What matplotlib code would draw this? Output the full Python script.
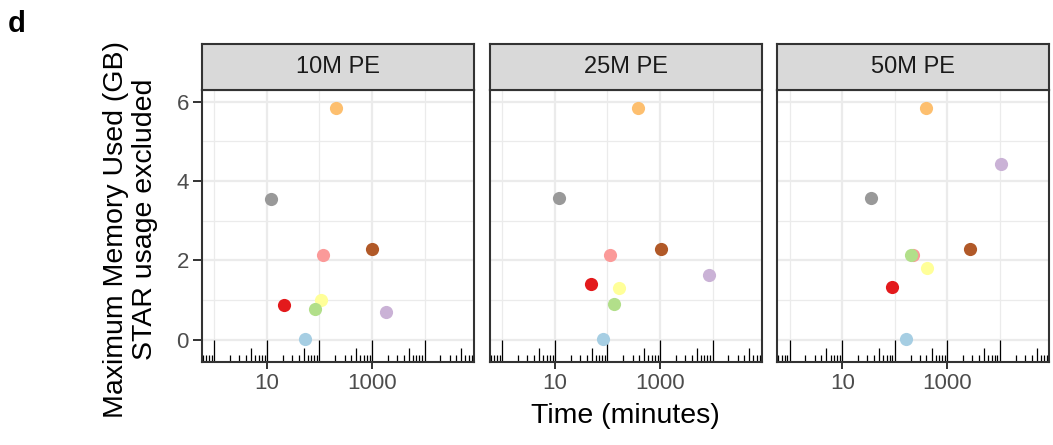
import matplotlib
matplotlib.use("Agg")
import matplotlib.pyplot as plt
import numpy as np

plt.rcParams['font.family'] = ['Liberation Sans', 'DejaVu Sans']

# Данные: панели, цвета серий, время (мин) и память (GB)
panels = ["10M PE", "25M PE", "50M PE"]
colors = ['#A6CEE3', '#E31A1C', '#FFFF99', '#FB9A99', '#B2DF8A',
          '#B15928', '#CAB2D6', '#FDBF6F', '#999999']

time_10m = [53, 21, 105, 118, 82, 986, 1850, 204, 11.8]
mem_10m = [0.025, 0.87, 1.01, 2.14, 0.79, 2.30, 0.70, 5.83, 3.55]

time_25m = [82, 48, 165, 113, 133, 1050, 8360, 373, 12.2]
mem_25m = [0.03, 1.42, 1.30, 2.14, 0.91, 2.30, 1.645, 5.83, 3.58]

time_50m = [163, 88.5, 414, 227, 203, 2650, 10700, 389, 35]
mem_50m = [0.03, 1.34, 1.82, 2.14, 2.14, 2.30, 4.42, 5.83, 3.56]

times = [time_10m, time_25m, time_50m]
mems = [mem_10m, mem_25m, mem_50m]

x_breaks = [10, 1000]
x_minor = [1, 100, 10000]
y_breaks = [0, 2, 4, 6]
y_minor = [1, 3, 5]

W, H = 1053, 445
fig = plt.figure(figsize=(W / 100, H / 100), dpi=100)

lefts = [202, 490, 777.3]
pw = 272
p_top, p_bot = 90, 361.7
s_top = 44

xlim = (10 ** -0.235, 10 ** 4.94)
ylim = (-0.547, 6.29)

for i, name in enumerate(panels):
    ax = fig.add_axes([lefts[i] / W, 1 - p_bot / H, pw / W, (p_bot - p_top) / H])
    ax.set_xscale('log')
    ax.set_xlim(*xlim)
    ax.set_ylim(*ylim)

    ax.set_xticks(x_breaks)
    ax.set_xticklabels([str(v) for v in x_breaks])
    ax.set_xticks(x_minor, minor=True)
    ax.set_yticks(y_breaks)
    ax.set_yticks(y_minor, minor=True)
    ax.xaxis.set_minor_formatter(matplotlib.ticker.NullFormatter())

    ax.grid(which='major', color='#EBEBEB', linewidth=1.6, zorder=0)
    ax.grid(which='minor', color='#EBEBEB', linewidth=0.9, zorder=0)
    ax.set_axisbelow(True)

    ax.tick_params(which='minor', length=0)
    ax.tick_params(axis='x', which='major', length=5, width=1.4, color='#333333',
                   labelsize=16, labelcolor='#4D4D4D', pad=3)
    if i == 0:
        ax.set_yticklabels([str(v) for v in y_breaks])
        ax.tick_params(axis='y', which='major', length=6.5, width=1.4, color='#333333',
                       labelsize=16, labelcolor='#4D4D4D', pad=3)
    else:
        ax.tick_params(axis='y', which='both', left=False, labelleft=False)

    for sp in ax.spines.values():
        sp.set_color('#333333')
        sp.set_linewidth(1.5)

    # логарифмические деления внутри панели (как annotation_logticks)
    trans = ax.get_xaxis_transform()
    for k in range(-1, 6):
        for m in range(1, 10):
            v = m * 10.0 ** k
            if v < xlim[0] or v > xlim[1]:
                continue
            if m == 1:
                ln = 0.08
            elif m == 5:
                ln = 0.052
            else:
                ln = 0.026
            ax.plot([v, v], [0, ln], transform=trans, color='black',
                    linewidth=0.9, zorder=2, solid_capstyle='butt')

    for x, y, c in zip(times[i], mems[i], colors):
        ax.scatter(x, y, s=90, color=c, linewidths=0, zorder=3)

    # полоска с названием панели
    sax = fig.add_axes([lefts[i] / W, 1 - p_top / H, pw / W, (p_top - s_top) / H])
    sax.set_facecolor('#D9D9D9')
    sax.set_xticks([])
    sax.set_yticks([])
    for sp in sax.spines.values():
        sp.set_color('#333333')
        sp.set_linewidth(1.5)
    sax.text(0.5, 0.5, name, ha='center', va='center', fontsize=17,
             color='#1A1A1A', transform=sax.transAxes)

fig.text(8 / W, 1 - 32 / H, "d", fontsize=21, fontweight='bold', va='baseline')

# подпись оси Y в две строки
fig.text(123 / W, 1 - 230 / H, "Maximum Memory Used (GB)", rotation=90,
         rotation_mode='anchor', ha='center', va='baseline', fontsize=20.5)
fig.text(152 / W, 1 - 219.5 / H, "STAR usage excluded", rotation=90,
         rotation_mode='anchor', ha='center', va='baseline', fontsize=20.5)

fig.text(625.5 / W, 1 - 416 / H, "Time (minutes)", ha='center', va='center',
         fontsize=20.5)

fig.savefig("out.png", dpi=100)
plt.close(fig)
